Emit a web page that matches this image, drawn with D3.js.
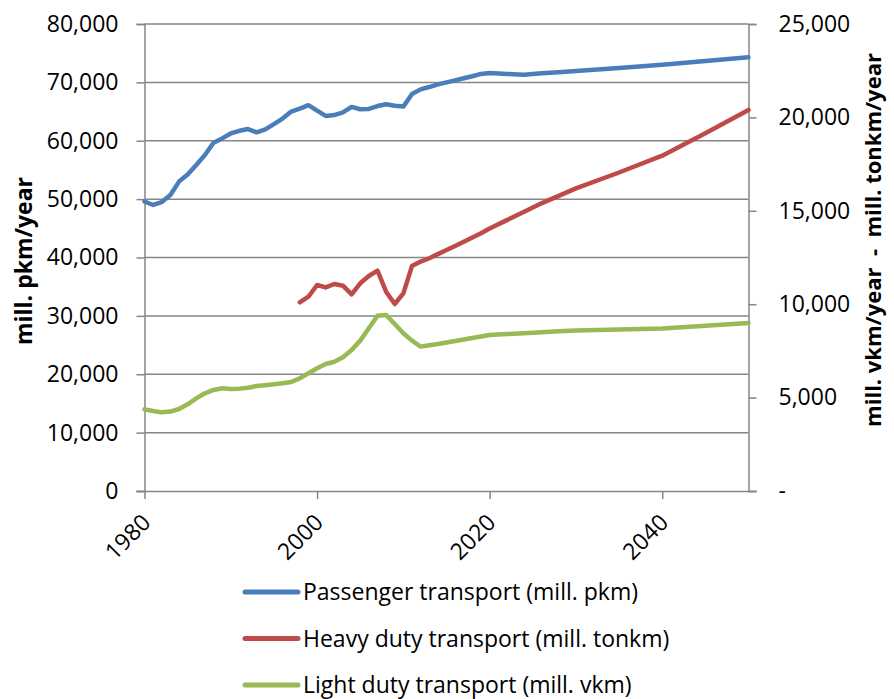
<!DOCTYPE html>
<html><head><meta charset="utf-8">
<script src="https://cdn.jsdelivr.net/npm/d3@7"></script>
<style>
html,body{margin:0;padding:0;background:#fff;}
svg{display:block;font-family:"Open Sans",Lato,sans-serif;}
</style></head>
<body><svg id="c" width="894" height="699"></svg>
<script>
const years = [1980,1981,1982,1983,1984,1985,1986,1987,1988,1989,1990,1991,1992,1993,1994,1995,1996,1997,1998,1999,2000,2001,2002,2003,2004,2005,2006,2007,2008,2009,2010,2011,2012,2013,2014,2015,2016,2017,2018,2019,2020,2022,2024,2026,2028,2030,2035,2040,2045,2050];
const passenger = [49600,49000,49500,50700,53000,54200,55850,57550,59650,60400,61250,61700,62000,61450,61950,62850,63800,65000,65500,66100,65150,64250,64400,64850,65800,65400,65450,65950,66250,66000,65850,68000,68800,69200,69650,70000,70350,70700,71050,71450,71600,71450,71300,71550,71750,71950,72450,73000,73650,74300];
const heavy = [null,null,null,null,null,null,null,null,null,null,null,null,null,null,null,null,null,null,10100,10400,11030,10900,11080,10990,10530,11120,11510,11800,10670,10010,10580,12040,12280,12460,12680,12900,13120,13340,13570,13800,14050,14500,14950,15400,15800,16200,17050,17950,19150,20400];
const light = [4370,4280,4210,4250,4390,4640,4960,5230,5410,5500,5460,5480,5530,5620,5660,5710,5770,5840,6030,6300,6570,6800,6920,7160,7550,8050,8710,9380,9420,8940,8440,8050,7730,7800,7870,7950,8030,8110,8190,8270,8350,8400,8450,8500,8550,8590,8650,8700,8850,9000];
const xTicks = [1980,2000,2020,2040];
const leftTicks = [0,10000,20000,30000,40000,50000,60000,70000,80000];
const rightTicks = [0,5000,10000,15000,20000,25000];
const seriesNames = ["Passenger transport (mill. pkm)","Heavy duty transport (mill. tonkm)","Light duty transport (mill. vkm)"];
const seriesColors = ["#4a7ebb","#be4b48","#98b954"];

const svg = d3.select("#c");
const x = d3.scaleLinear().domain([1980,2050]).range([144.5,748.5]);
const yL = d3.scaleLinear().domain([0,80000]).range([491,24]);
const yR = d3.scaleLinear().domain([0,25000]).range([491,24]);
const grid = "#868686";
const FONT = "'Open Sans',Lato,sans-serif";

// gridlines
svg.append("g").selectAll("line").data(leftTicks.slice(1)).join("line")
  .attr("x1",x(1980)).attr("x2",x(2050)).attr("y1",d=>yL(d)).attr("y2",d=>yL(d))
  .attr("stroke",grid).attr("stroke-width",1.5);

// left axis
const la = svg.append("g").attr("transform",`translate(${x(1980)},0)`)
  .call(d3.axisLeft(yL).tickValues(leftTicks).tickFormat(d3.format(",")).tickSize(8).tickPadding(18));
// right axis
const ra = svg.append("g").attr("transform",`translate(${x(2050)},0)`)
  .call(d3.axisRight(yR).tickValues(rightTicks).tickFormat(d=>d===0?"-":d3.format(",")(d)).tickSize(8).tickPadding(22));
// bottom axis
const ba = svg.append("g").attr("transform",`translate(0,${yL(0)})`)
  .call(d3.axisBottom(x).tickValues(xTicks).tickFormat(d3.format("d")).tickSize(8));
[la,ra,ba].forEach(g=>{
  g.select(".domain").attr("stroke",grid).attr("stroke-width",1.5);
  g.selectAll(".tick line").attr("stroke",grid).attr("stroke-width",1.5);
  g.selectAll("text").attr("fill","#000").style("font-size","23px").style("font-family",FONT);
});
ba.select(".domain").attr("d",`M${x(1980)-8},0.5H${x(2050)+8}`);
ba.selectAll(".tick text").attr("text-anchor","end").attr("dy",null)
  .attr("transform","translate(7,33) rotate(-45)").attr("y",0).attr("x",0);

// axis titles
svg.append("text").attr("transform","translate(32,261) rotate(-90)").attr("text-anchor","middle")
  .style("font-size","23px").style("font-weight","bold").text("mill. pkm/year");
svg.append("text").attr("transform","translate(881,240) rotate(-90)").attr("text-anchor","middle")
  .attr("xml:space","preserve").style("white-space","pre")
  .style("font-size","22px").style("font-weight","bold").text("mill. vkm/year  -  mill. tonkm/year");

// lines
const mk = (arr,ys)=>d3.line().defined((d,i)=>arr[i]!==null).x((d,i)=>x(years[i])).y((d,i)=>ys(arr[i]));
const data = [[passenger,yL],[heavy,yR],[light,yR]];
data.forEach(([arr,ys],k)=>{
  svg.append("path").datum(arr).attr("d",mk(arr,ys)(arr))
    .attr("fill","none").attr("stroke",seriesColors[k]).attr("stroke-width",4.5)
    .attr("stroke-linejoin","round").attr("stroke-linecap","round");
});

// legend
const lg = svg.append("g").selectAll("g").data(seriesNames).join("g")
  .attr("transform",(d,i)=>`translate(245,${592+i*46.5})`);
lg.append("line").attr("x1",0).attr("x2",53).attr("stroke",(d,i)=>seriesColors[i]).attr("stroke-width",5).attr("stroke-linecap","round");
lg.append("text").attr("x",58).attr("dy","0.35em").style("font-size","23px").text(d=>d);
</script></body></html>
